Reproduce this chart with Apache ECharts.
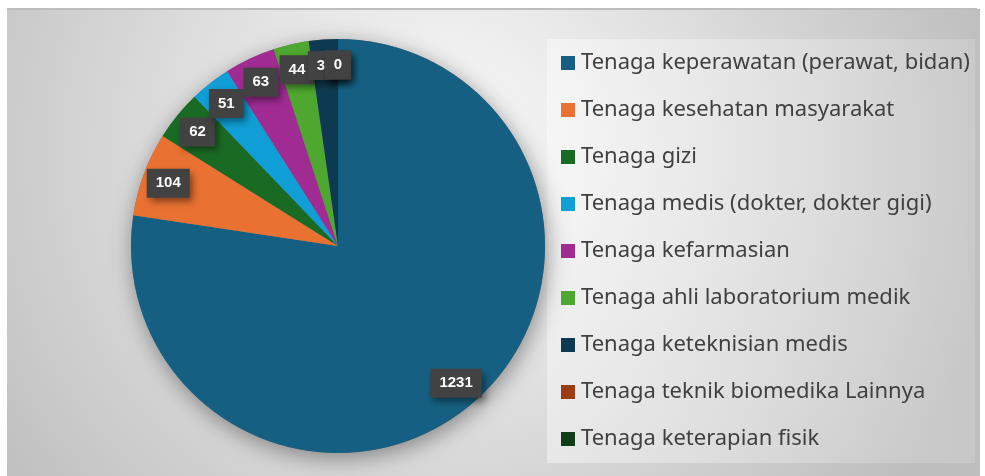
<!DOCTYPE html>
<html>
<head>
<meta charset="utf-8">
<script src="https://cdn.jsdelivr.net/npm/echarts@6/dist/echarts.min.js"></script>
<style>
html, body { margin: 0; padding: 0; background: #fff; }
#main { width: 985px; height: 476px; }
</style>
</head>
<body>
<div id="main"></div>
<script>
// data
const categories = [
    'Tenaga keperawatan (perawat, bidan)',
    'Tenaga kesehatan masyarakat',
    'Tenaga gizi',
    'Tenaga medis (dokter, dokter gigi)',
    'Tenaga kefarmasian',
    'Tenaga ahli laboratorium medik',
    'Tenaga keteknisian medis',
    'Tenaga teknik biomedika Lainnya',
    'Tenaga keterapian fisik'
];
const values = [1231, 104, 62, 51, 63, 44, 36, 0, 0];
const colors = ['#156082', '#E97132', '#196B24', '#0F9ED5', '#A02B93', '#4EA72E', '#0E3A51', '#9B3D12', '#0F3D16'];

let pieData = [];
for (let i = 0; i < categories.length; i++) {
    pieData.push({ name: categories[i], value: values[i], itemStyle: { color: colors[i] } });
}
let labelData = [];
for (let i = 0; i < categories.length; i++) {
    labelData.push({ name: categories[i], value: values[i] });
}

let chart = echarts.init(document.getElementById('main'));
let option = {
    animation: false,
    backgroundColor: '#ffffff',
    graphic: [
        {
            type: 'rect', left: 7, top: 9, silent: true,
            shape: { width: 973, height: 467 },
            style: {
                fill: new echarts.graphic.RadialGradient(0.45, 0.3, 1.2, [
                    { offset: 0, color: '#fbfbfb' },
                    { offset: 1, color: '#bebebe' }
                ])
            }
        },
        {
            type: 'rect', left: 7, top: 8, silent: true,
            shape: { width: 970, height: 2 },
            style: { fill: '#bdbdbd' }
        },
        {
            type: 'rect', left: 547, top: 39, silent: true,
            shape: { width: 428, height: 424 },
            style: {
                fill: new echarts.graphic.LinearGradient(0, 0, 1, 0, [
                    { offset: 0, color: 'rgba(255,255,255,0.4)' },
                    { offset: 1, color: 'rgba(255,255,255,0.15)' }
                ])
            }
        }
    ],
    legend: {
        orient: 'vertical',
        left: 556,
        top: 46,
        icon: 'rect',
        itemWidth: 14,
        itemHeight: 14,
        itemGap: 23,
        selectedMode: false,
        data: categories.map((n, i) => ({ name: n, itemStyle: { color: colors[i] } })),
        textStyle: {
            fontFamily: 'Noto Sans',
            fontSize: 22,
            lineHeight: 24,
            color: '#404040',
            padding: [0, 0, 0, 1]
        }
    },
    series: [
        {
            // soft shadow under the pie
            type: 'pie',
            center: [338, 246],
            radius: 207,
            silent: true,
            label: { show: false },
            labelLine: { show: false },
            data: [{ name: '', value: 1 }],
            itemStyle: {
                color: '#777777',
                shadowBlur: 22,
                shadowOffsetX: 2,
                shadowOffsetY: 5,
                shadowColor: 'rgba(0,0,0,0.4)'
            }
        },
        {
            type: 'pie',
            center: [338, 246],
            radius: 207,
            startAngle: 90,
            clockwise: true,
            label: { show: false },
            labelLine: { show: false },
            emphasis: { disabled: true },
            itemStyle: { borderWidth: 0 },
            data: pieData
        },
        {
            // transparent ring that carries the value labels near the rim
            type: 'pie',
            center: [338, 246],
            radius: [149, 207],
            startAngle: 90,
            clockwise: true,
            silent: true,
            legendHoverLink: false,
            avoidLabelOverlap: false,
            labelLayout: { hideOverlap: false },
            itemStyle: { color: 'rgba(0,0,0,0)' },
            label: {
                show: true,
                position: 'inside',
                formatter: '{c}',
                fontFamily: 'Liberation Sans',
                fontWeight: 'bold',
                fontSize: 15,
                color: '#ffffff',
                backgroundColor: '#424242',
                padding: [7, 9, 7, 9],
                shadowBlur: 7,
                shadowOffsetX: 3,
                shadowOffsetY: 4,
                shadowColor: 'rgba(0,0,0,0.45)'
            },
            labelLine: { show: false },
            data: labelData
        }
    ]
};
chart.setOption(option);
</script>
</body>
</html>
